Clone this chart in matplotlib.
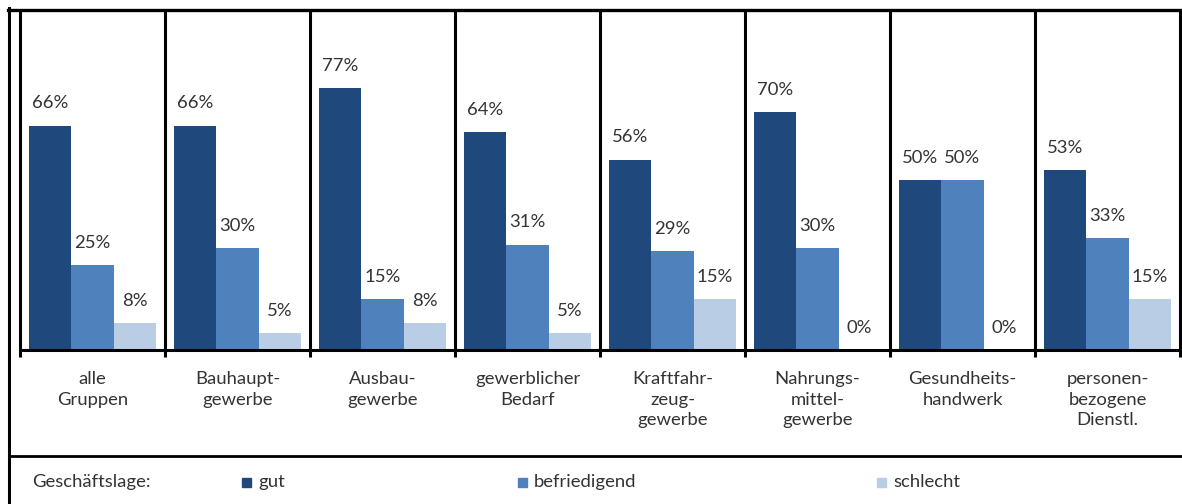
import matplotlib
matplotlib.use("Agg")
import matplotlib.pyplot as plt
from matplotlib.lines import Line2D
from matplotlib.patches import Rectangle
import numpy as np

categories = ["alle\nGruppen", "Bauhaupt-\ngewerbe", "Ausbau-\ngewerbe",
              "gewerblicher\nBedarf", "Kraftfahr-\nzeug-\ngewerbe",
              "Nahrungs-\nmittel-\ngewerbe", "Gesundheits-\nhandwerk",
              "personen-\nbezogene\nDienstl."]
series_names = ["gut", "befriedigend", "schlecht"]
gut = [66, 66, 77, 64, 56, 70, 50, 53]
befriedigend = [25, 30, 15, 31, 29, 30, 50, 33]
schlecht = [8, 5, 8, 5, 15, 0, 0, 15]
legend_title = "Geschäftslage:"

colors = ["#1F497D", "#4F81BD", "#B9CDE5"]
text_color = "#333333"
FONT = ["Lato", "DejaVu Sans"]
FS = 13.3

W, H = 1182, 504
fig = plt.figure(figsize=(W / 100, H / 100), dpi=100)
fig.patch.set_facecolor("white")

def fx(x):
    return x / W

def fy(y):
    return 1 - y / H

ax_left, ax_right, ax_top, ax_bottom = 20, 1180, 10, 350
ax = fig.add_axes([fx(ax_left), fy(ax_bottom), fx(ax_right - ax_left),
                   (ax_bottom - ax_top) / H])
ax.set_xlim(-0.5, len(categories) - 0.5)
ax.set_ylim(0, 100)
for s in ax.spines.values():
    s.set_visible(False)
ax.set_xticks([])
ax.set_yticks([])

x = np.arange(len(categories))
bw = 0.29
for k, (vals, col) in enumerate(zip([gut, befriedigend, schlecht], colors)):
    xs = x + (k - 1) * bw
    ax.bar(xs, vals, width=bw, color=col, edgecolor="none", zorder=2)
    for xi, v in zip(xs, vals):
        ax.annotate(f"{v}%", (xi, v), xytext=(0, 16), textcoords="offset points",
                    ha="center", va="center", fontsize=FS, color=text_color,
                    family=FONT)

lw = 2.2
# x axis line
ax.plot([-0.5, len(categories) - 0.5], [0, 0], color="black", lw=lw,
        solid_capstyle="butt", clip_on=False, zorder=3)
# group separators
trans = ax.get_xaxis_transform()
ext = 7 / (ax_bottom - ax_top)
for b in np.arange(-0.5, len(categories), 1.0):
    ax.plot([b, b], [-ext, 1], color="black", lw=lw, transform=trans,
            clip_on=False, solid_capstyle="butt", zorder=3)

# category labels
lab_trans = matplotlib.transforms.blended_transform_factory(ax.transData, fig.transFigure)
for xi, lab in zip(x, categories):
    ax.text(xi, fy(371), lab, transform=lab_trans,
            ha="center", va="top", fontsize=FS, color=text_color, family=FONT,
            linespacing=1.35)

# outer box lines
fig.add_artist(Line2D([fx(9.5), fx(9.5)], [fy(8), fy(504)], color="black", lw=lw))
fig.add_artist(Line2D([fx(8), fx(1182)], [fy(9.5), fy(9.5)], color="black", lw=2.4))
fig.add_artist(Line2D([fx(9.5), fx(1182)], [fy(456), fy(456)], color="black", lw=2.0))

# legend
ly = 482
fig.text(fx(32), fy(ly), legend_title, ha="left", va="center", fontsize=FS,
         color=text_color, family=FONT)
leg_sq_x = [242, 518, 877]
for sx, name, col in zip(leg_sq_x, series_names, colors):
    fig.add_artist(Rectangle((fx(sx), fy(ly + 5)), fx(9), 9 / H, color=col,
                             transform=fig.transFigure))
    fig.text(fx(sx + 16), fy(ly), name, ha="left", va="center", fontsize=FS,
             color=text_color, family=FONT)

fig.savefig("out.png", dpi=100, facecolor="white")
